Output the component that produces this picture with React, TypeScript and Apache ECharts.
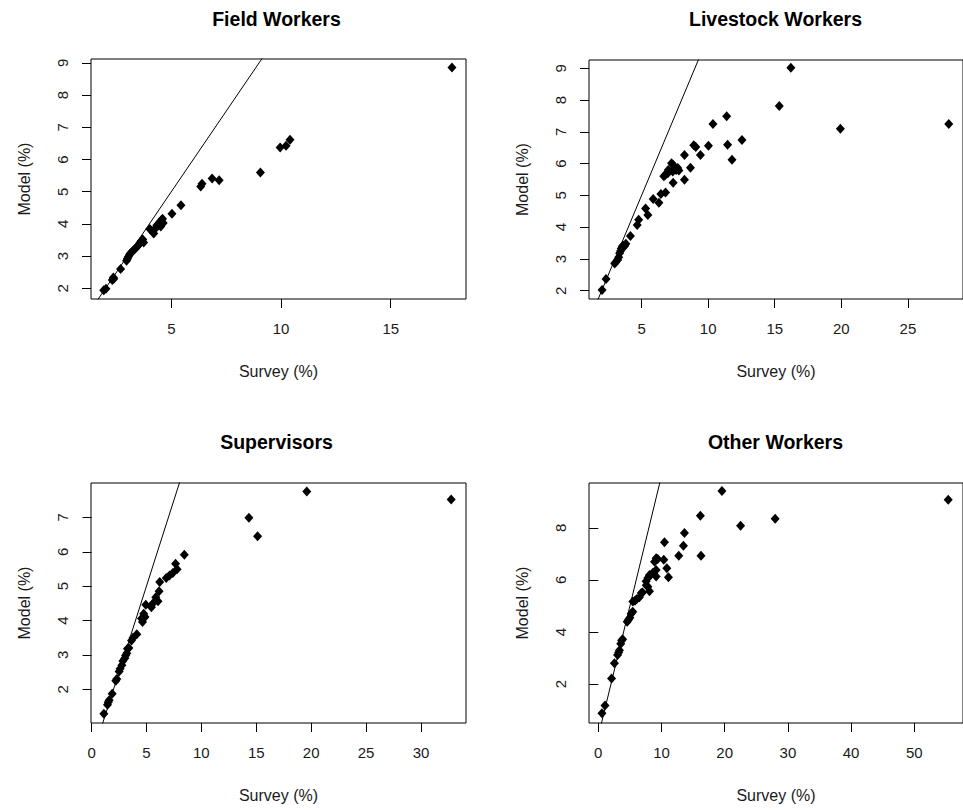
import React, { useEffect, useRef } from "react";
import * as echarts from "echarts";

const panelTitles = ["Field Workers", "Livestock Workers", "Supervisors", "Other Workers"];
const xAxisName = "Survey (%)";
const yAxisName = "Model (%)";

const fieldWorkers: number[][] = [
  [1.92, 1.94], [2.02, 1.99], [2.31, 2.26], [2.36, 2.34], [2.38, 2.30], [2.69, 2.60],
  [2.96, 2.86], [3.00, 2.92], [3.04, 2.98], [3.10, 3.05], [3.14, 3.09], [3.22, 3.14],
  [3.28, 3.19], [3.36, 3.24], [3.45, 3.30], [3.52, 3.36], [3.58, 3.42], [3.64, 3.48],
  [3.70, 3.52], [3.74, 3.42], [4.02, 3.84], [4.12, 3.78], [4.20, 3.70], [4.28, 3.86],
  [4.34, 3.96], [4.42, 4.00], [4.48, 4.06], [4.55, 4.12], [4.60, 4.16], [4.63, 4.03],
  [4.52, 3.92], [5.03, 4.32], [5.44, 4.58], [6.34, 5.16], [6.40, 5.25], [6.86, 5.41],
  [7.18, 5.36], [9.06, 5.60], [9.96, 6.37], [10.23, 6.43], [10.41, 6.61], [17.79, 8.86],
];

const livestockWorkers: number[][] = [
  [2.03, 2.02], [2.33, 2.37], [2.98, 2.86], [3.05, 2.90], [3.20, 2.97], [3.28, 3.05],
  [3.35, 3.18], [3.42, 3.25], [3.47, 3.33], [3.55, 3.38], [3.60, 3.42], [3.73, 3.41],
  [3.82, 3.48], [4.16, 3.72], [4.67, 4.07], [4.78, 4.23], [5.30, 4.59], [5.47, 4.38],
  [5.87, 4.89], [6.30, 4.77], [6.45, 5.04], [6.80, 5.09], [6.67, 5.60], [6.77, 5.64],
  [6.97, 5.70], [7.00, 5.80], [7.25, 6.01], [7.38, 5.96], [7.45, 5.90], [7.34, 5.75],
  [7.59, 5.80], [7.72, 5.86], [7.80, 5.78], [7.37, 5.40], [8.22, 5.49], [8.67, 5.87],
  [8.22, 6.27], [9.42, 6.27], [8.92, 6.58], [9.07, 6.52], [10.02, 6.56], [10.36, 7.25],
  [11.39, 7.49], [11.46, 6.59], [11.79, 6.12], [12.54, 6.74], [15.34, 7.81], [16.21, 9.02],
  [19.93, 7.10], [28.07, 7.25],
];

const supervisors: number[][] = [
  [1.12, 1.29], [1.45, 1.55], [1.52, 1.62], [1.60, 1.68], [1.88, 1.87], [2.21, 2.25],
  [2.30, 2.30], [2.51, 2.52], [2.60, 2.60], [2.76, 2.70], [2.85, 2.82], [3.03, 2.90],
  [3.10, 2.98], [3.21, 3.05], [3.27, 3.18], [3.40, 3.20], [3.64, 3.42], [3.78, 3.50],
  [4.12, 3.60], [4.55, 4.06], [4.64, 3.96], [4.75, 4.20], [4.87, 4.10], [4.94, 4.46],
  [5.45, 4.39], [5.60, 4.50], [5.85, 4.68], [6.05, 4.56], [6.15, 4.85], [6.21, 5.12],
  [6.80, 5.24], [7.10, 5.31], [7.40, 5.38], [7.79, 5.49], [7.65, 5.65], [8.45, 5.91],
  [14.33, 6.99], [15.12, 6.45], [19.60, 7.75], [32.75, 7.52],
];

const otherWorkers: number[][] = [
  [0.58, 0.88], [1.06, 1.18], [2.10, 2.22], [2.55, 2.80], [3.05, 3.12], [3.22, 3.22],
  [3.35, 3.30], [3.55, 3.55], [3.70, 3.68], [3.85, 3.72], [4.57, 4.40], [4.80, 4.48],
  [5.00, 4.55], [5.20, 4.70], [5.45, 4.78], [5.47, 5.17], [5.80, 5.20], [6.05, 5.26],
  [6.50, 5.34], [6.80, 5.50], [7.00, 5.52], [7.60, 5.80], [7.84, 5.74], [8.10, 5.57],
  [7.57, 5.95], [7.84, 6.07], [8.05, 6.13], [8.10, 6.19], [8.63, 6.28], [9.15, 6.13],
  [9.15, 6.38], [8.90, 6.70], [9.15, 6.83], [9.40, 6.80], [10.36, 6.77], [10.84, 6.45],
  [11.10, 6.10], [10.47, 7.45], [12.73, 6.93], [13.47, 7.31], [13.63, 7.80], [16.25, 6.93],
  [16.15, 8.46], [19.56, 9.41], [22.51, 8.08], [27.98, 8.35], [55.36, 9.08],
];

const panelData = [fieldWorkers, livestockWorkers, supervisors, otherWorkers];

const xTickValues = [
  [5, 10, 15],
  [5, 10, 15, 20, 25],
  [0, 5, 10, 15, 20, 25, 30],
  [0, 10, 20, 30, 40, 50],
];
const yTickValues = [
  [2, 3, 4, 5, 6, 7, 8, 9],
  [2, 3, 4, 5, 6, 7, 8, 9],
  [2, 3, 4, 5, 6, 7],
  [2, 4, 6, 8],
];
const xExtents = [[1.34, 18.43], [1.05, 29.14], [-0.05, 34.1], [-1.47, 57.7]];
const yExtents = [[1.67, 9.12], [1.74, 9.26], [1.02, 8.0], [0.51, 9.72]];
// identity reference line y = x
const identityLine: number[][] = [[-10, -10], [100, 100]];

const grids = [
  { left: 91, top: 59, width: 375, height: 240 },
  { left: 589, top: 60, width: 375, height: 239 },
  { left: 91, top: 483, width: 375, height: 240 },
  { left: 589, top: 483, width: 375, height: 240 },
];

const FONT = "'Liberation Sans', Arial, sans-serif";
const TEXT = "#1a1a1a";

export default function App() {
  const ref = useRef<HTMLDivElement>(null);
  useEffect(() => {
    if (!ref.current) return;
    const chart = echarts.init(ref.current, undefined, { renderer: "svg" });
    const option: any = {
      animation: false,
      backgroundColor: "#fff",
      title: panelTitles.map((t, i) => ({
        text: t,
        left: grids[i].left + grids[i].width / 2 - (i % 2 === 1 ? 1 : 2),
        top: i < 2 ? 9 : 432,
        textAlign: "center",
        padding: 0,
        textStyle: { fontFamily: FONT, fontWeight: "bold", fontSize: 19.5, color: "#000" },
      })),
      grid: grids.map((g) => ({ ...g, show: true, borderColor: "#000", borderWidth: 1, backgroundColor: "transparent" })),
      xAxis: grids.map((_, i) => ({
        type: "value",
        gridIndex: i,
        min: xExtents[i][0],
        max: xExtents[i][1],
        name: xAxisName,
        nameLocation: "middle",
        nameGap: 64,
        nameTextStyle: { fontFamily: FONT, fontSize: 16, color: TEXT },
        axisLine: { show: false },
        splitLine: { show: false },
        axisTick: { show: true, inside: false, length: 9, lineStyle: { color: "#000" }, customValues: xTickValues[i] },
        axisLabel: { fontFamily: FONT, fontSize: 15, color: TEXT, margin: 22, customValues: xTickValues[i] },
      })),
      yAxis: grids.map((_, i) => ({
        type: "value",
        gridIndex: i,
        min: yExtents[i][0],
        max: yExtents[i][1],
        name: yAxisName,
        nameLocation: "middle",
        nameGap: 59,
        nameRotate: 90,
        nameTextStyle: { fontFamily: FONT, fontSize: 16, color: TEXT },
        axisLine: { show: false },
        splitLine: { show: false },
        axisTick: { show: true, inside: false, length: 9, lineStyle: { color: "#000" }, customValues: yTickValues[i] },
        axisLabel: { fontFamily: FONT, fontSize: 15, color: TEXT, margin: 21, rotate: 90, customValues: yTickValues[i] },
      })),
      series: [
        ...panelData.map((d, i) => ({
          type: "line",
          xAxisIndex: i,
          yAxisIndex: i,
          data: identityLine,
          clip: true,
          showSymbol: false,
          symbol: "none",
          lineStyle: { color: "#000", width: 1 },
          silent: true,
        })),
        ...panelData.map((d, i) => ({
          type: "scatter",
          xAxisIndex: i,
          yAxisIndex: i,
          data: d,
          symbol: "diamond",
          symbolSize: [9, 10],
          itemStyle: { color: "#000", opacity: 1 },
        })),
      ],
    };
    chart.setOption(option);
    return () => chart.dispose();
  }, []);
  return (
    <div
      ref={ref}
      style={{ position: "absolute", left: 0, top: 0, width: 963, height: 810, background: "#fff" }}
    />
  );
}
